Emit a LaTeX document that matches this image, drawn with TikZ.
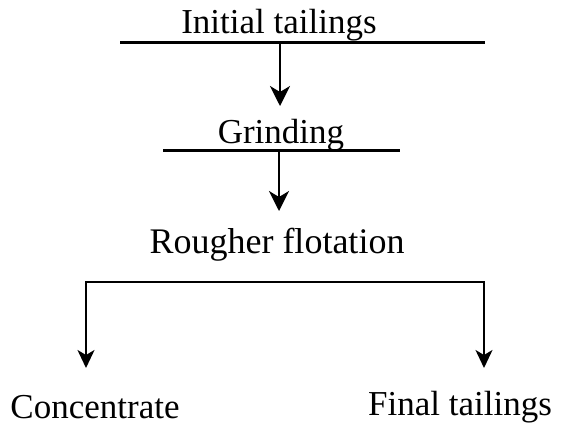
\documentclass[tikz,border=0pt]{standalone}
\usepackage{fontspec}
\setmainfont{Liberation Serif}
\usetikzlibrary{arrows.meta}
\begin{document}
\begin{tikzpicture}[x=1pt,y=-1pt,
  lbl/.style={anchor=base, inner sep=0pt, font=\fontsize{35}{42}\selectfont},
  bar/.style={line width=3pt},
  flow/.style={line width=2pt, -{Stealth[length=20pt,width=20pt,inset=6pt]}},
  branch/.style={line width=2pt, line join=miter,
    {Stealth[length=18pt,width=17pt,inset=5pt]}-{Stealth[length=18pt,width=17pt,inset=5pt]}},
]
\fill[white] (0,0) rectangle (562,442);
\useasboundingbox (0,0) rectangle (562,442);

\node[lbl] (init) at (279,33) {Initial tailings};
\coordinate (b1l) at (120,42);
\coordinate (b1r) at (485,42);
\coordinate (b1m) at (280,42);
\coordinate (t1) at (280,106);
\draw[bar] (b1l) -- (b1r);
\draw[flow] (b1m) -- (t1);

\node[lbl] (grind) at (281,143) {Grinding};
\coordinate (b2l) at (163,150);
\coordinate (b2r) at (400,150);
\coordinate (b2m) at (279,150);
\coordinate (t2) at (279,211);
\draw[bar] (b2l) -- (b2r);
\draw[flow] (b2m) -- (t2);

\node[lbl, font=\fontsize{36}{43}\selectfont] (rough) at (277,253) {Rougher flotation};

\coordinate (brl) at (86,282);
\coordinate (brr) at (484,282);
\coordinate (t3) at (86,368);
\coordinate (t4) at (484,368);
\draw[branch] (t3) -- (brl) -- (brr) -- (t4);

\node[lbl] (conc) at (95,418) {Concentrate};
\node[lbl] (fin) at (460,415) {Final tailings};
\end{tikzpicture}
\end{document}
